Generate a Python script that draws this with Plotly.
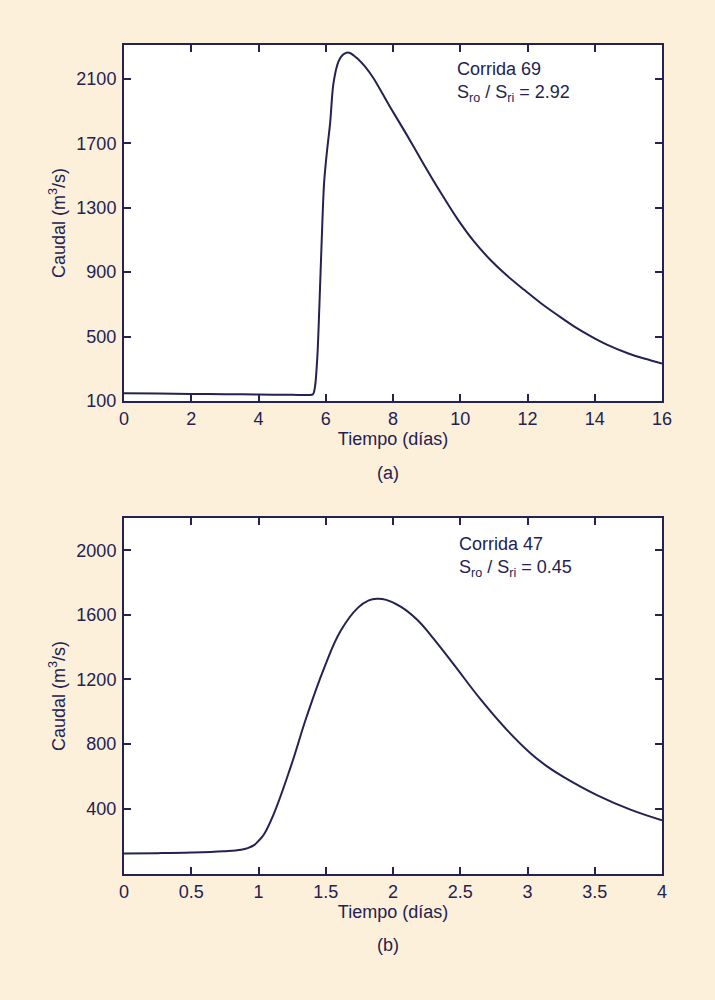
import plotly.graph_objects as go

# ---- data ----
t_a = [0, 1, 2, 3, 4, 5, 5.5, 5.62, 5.68, 5.75, 5.81, 5.88, 5.95, 6.03, 6.13, 6.23, 6.38,
       6.5, 6.62, 6.72, 6.85, 6.95, 7.17, 7.42, 7.9, 8.41, 8.9, 9.40, 9.9, 10.39, 10.9,
       11.38, 11.9, 12.38, 12.9, 13.37, 13.9, 14.36, 15.0, 15.5, 16.0]
q_a = [148, 146, 144, 142, 140, 138, 137, 142, 189, 375, 686, 1100, 1452, 1638, 1825, 2073, 2208,
       2248, 2262, 2260, 2242, 2225, 2176, 2104, 1930, 1752, 1575, 1400, 1235, 1095, 975,
       880, 790, 710, 632, 565, 500, 450, 395, 362, 333]

t_b = [0, 0.25, 0.5, 0.74, 0.87, 0.92, 0.97, 1.0, 1.04, 1.11, 1.24, 1.36, 1.49, 1.61, 1.74, 1.82, 1.88,
       1.95, 2.06, 2.18, 2.28, 2.45, 2.65, 2.85, 3.02, 3.14, 3.27, 3.52, 3.77, 4.0]
q_b = [122, 124, 128, 136, 145, 155, 175, 200, 240, 360, 660, 975, 1275, 1500, 1645, 1690, 1700,
       1693, 1650, 1570, 1475, 1295, 1078, 885, 745, 665, 595, 482, 392, 328]

ticks_a_x = [0, 2, 4, 6, 8, 10, 12, 14, 16]
ticks_a_y = [100, 500, 900, 1300, 1700, 2100]
ticks_b_x = [0, 0.5, 1, 1.5, 2, 2.5, 3, 3.5, 4]
ticks_b_y = [400, 800, 1200, 1600, 2000]
ticks_b_xt = ["0", "0.5", "1", "1.5", "2", "2.5", "3", "3.5", "4"]

NAVY = "#232252"
BG = "#FDF0DA"
FONT = "Liberation Sans, Arial, Helvetica, sans-serif"
FS = 18

fig = go.Figure()
fig.add_trace(go.Scatter(x=t_a, y=q_a, mode="lines", line=dict(color=NAVY, width=2, shape="spline", smoothing=0.9),
                         xaxis="x", yaxis="y", showlegend=False))
fig.add_trace(go.Scatter(x=t_b, y=q_b, mode="lines", line=dict(color=NAVY, width=2, shape="spline", smoothing=1.2),
                         xaxis="x2", yaxis="y2", showlegend=False))

ax_common = dict(showline=True, linecolor=NAVY, linewidth=2, mirror="ticks", ticks="inside",
                 ticklen=7, tickwidth=1.5, tickcolor=NAVY, showgrid=False, zeroline=False,
                 tickfont=dict(family=FONT, size=FS, color=NAVY))

fig.update_layout(
    width=715, height=1000,
    paper_bgcolor=BG, plot_bgcolor="white",
    margin=dict(l=124, r=53, t=45, b=126),
    font=dict(family=FONT, size=FS, color=NAVY),
    xaxis=dict(domain=[0, 1], range=[0, 16], tickvals=ticks_a_x, anchor="y",
               title=dict(text="Tiempo (días)", standoff=2, font=dict(size=FS)), **ax_common),
    yaxis=dict(domain=[0.5706, 1], range=[100, 2310], tickvals=ticks_a_y, anchor="x",
               title=dict(text="Caudal (m<sup>3</sup>/s)", standoff=6, font=dict(size=FS)),
               ticklabelstandoff=2, **ax_common),
    xaxis2=dict(domain=[0, 1], range=[0, 4], tickvals=ticks_b_x, ticktext=ticks_b_xt, anchor="y2",
                title=dict(text="Tiempo (días)", standoff=2, font=dict(size=FS)), **ax_common),
    yaxis2=dict(domain=[0, 0.4294], range=[-5, 2200], tickvals=ticks_b_y, anchor="x2",
                title=dict(text="Caudal (m<sup>3</sup>/s)", standoff=6, font=dict(size=FS)),
                ticklabelstandoff=2, **ax_common),
)

fig.add_annotation(xref="x domain", yref="y domain", x=0.615, y=0.965, xanchor="left", yanchor="top",
                   text="Corrida 69<br>S<sub>ro</sub> / S<sub>ri</sub> = 2.92", showarrow=False, align="left",
                   font=dict(family=FONT, size=FS, color=NAVY))
fig.add_annotation(xref="x2 domain", yref="y2 domain", x=0.619, y=0.96, xanchor="left", yanchor="top",
                   text="Corrida 47<br>S<sub>ro</sub> / S<sub>ri</sub> = 0.45", showarrow=False, align="left",
                   font=dict(family=FONT, size=FS, color=NAVY))
fig.add_annotation(xref="paper", yref="paper", x=0.49, y=(874 - 473) / 829,
                   text="(a)", showarrow=False, yanchor="middle", font=dict(family=FONT, size=FS, color=NAVY))
fig.add_annotation(xref="paper", yref="paper", x=0.49, y=(874 - 945) / 829,
                   text="(b)", showarrow=False, yanchor="middle", font=dict(family=FONT, size=FS, color=NAVY))

fig.write_html("out.html")
